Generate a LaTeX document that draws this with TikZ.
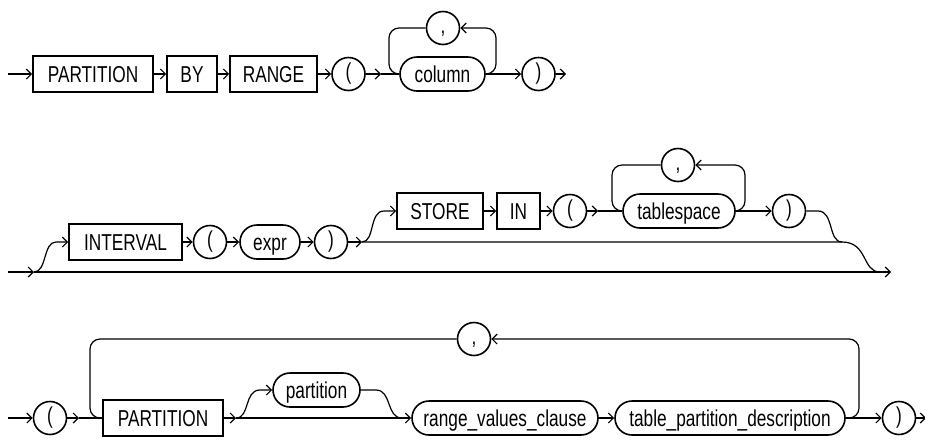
\documentclass[tikz,border=0pt]{standalone}
\usepackage{fontspec}
\setmainfont[FakeStretch=0.75]{Liberation Sans}
\usetikzlibrary{arrows.meta}
\begin{document}
\begin{tikzpicture}[x=1pt,y=-1pt,
  font=\fontsize{23}{26}\selectfont,
  kw/.style={draw, line width=1.6pt, rectangle, minimum height=36pt, inner sep=0pt, text height=16.5pt, text depth=0pt},
  nt/.style={draw, line width=1.6pt, rectangle, rounded corners=17pt, minimum height=34pt, inner sep=0pt, text height=16.5pt, text depth=0pt},
  sym/.style={draw, line width=1.6pt, circle, minimum size=33pt, inner sep=0pt, text height=16.5pt, text depth=4.8pt},
  ln/.style={line width=1.2pt},
  ar/.style={ln, -{Straight Barb[length=5pt,width=10pt]}},
  lp/.style={ln, rounded corners=10pt},
  arlp/.style={ar, rounded corners=10pt}]
\useasboundingbox (0,0) rectangle (925,440);

% ---------- row 1 ----------
\coordinate (s1) at (8,74);
\node[kw, minimum width=120pt] (part1) at (93,74) {PARTITION};
\node[kw, minimum width=50pt] (by) at (192,74) {BY};
\node[kw, minimum width=87pt] (range) at (273.5,74) {RANGE};
\node[sym] (lp1) at (348.5,74) {(};
\coordinate (a1) at (381,74);
\node[nt, minimum width=85pt] (col) at (442.5,74) {column};
\node[sym] (cm1) at (443,28) {,};
\node[sym] (rp1) at (538.5,74) {)};
\coordinate (e1) at (566,74);
\coordinate (l1r) at (496,74);
\coordinate (l1l) at (389,74);

\draw[ar] (s1) -- (part1);
\draw[ar] (part1) -- (by);
\draw[ar] (by) -- (range);
\draw[ar] (range) -- (lp1);
\draw[ar] (lp1) -- (a1);
\draw[ln] (a1) -- (col);
\draw[ar] (col) -- (rp1);
\draw[ar] (rp1) -- (e1);
\draw[arlp] (col.east) -- (l1r) -- (l1r |- cm1) -- (cm1);
\draw[lp] (cm1) -- (l1l |- cm1) -- (l1l) -- (col.west);

% ---------- row 2 ----------
\coordinate (s2) at (8,272);
\coordinate (j2) at (34,272);
\coordinate (e2) at (891,272);
\node[kw, minimum width=113pt] (interval) at (125.5,242) {INTERVAL};
\node[sym] (lp2) at (210,242) {(};
\node[nt, minimum width=60pt] (expr) at (270,242) {expr};
\node[sym] (rp2) at (331,242) {)};
\coordinate (j3) at (362,242);
\node[kw, minimum width=86pt] (store) at (440,211) {STORE};
\node[kw, minimum width=43pt] (in) at (518.5,211) {IN};
\node[sym] (lp3) at (570,211) {(};
\coordinate (a3) at (598,211);
\node[nt, minimum width=112pt] (ts) at (679,211) {tablespace};
\node[sym] (cm2) at (678,165) {,};
\node[sym] (rp3) at (789,211) {)};
\coordinate (l2r) at (745,211);
\coordinate (l2l) at (612,211);
\coordinate (m2) at (842,242);
\coordinate (m3) at (880,272);

\draw[ar] (s2) -- (j2);
\draw[ar] (j2) -- (e2);
\draw[ar] (j2) .. controls (47,272) and (43,242) .. (56,242) -- (interval);
\draw[ar] (interval) -- (lp2);
\draw[ar] (lp2) -- (expr);
\draw[ar] (expr) -- (rp2);
\draw[ar] (rp2) -- (j3);
\draw[ln] (j3) -- (m2) .. controls (868,242) and (862,272) .. (m3);
\draw[ar] (j3) .. controls (375,242) and (369,211) .. (384,211) -- (store);
\draw[ar] (store) -- (in);
\draw[ar] (in) -- (lp3);
\draw[ar] (lp3) -- (a3);
\draw[ln] (a3) -- (ts);
\draw[ar] (ts) -- (rp3);
\draw[ln] (rp3) -- (818,211) .. controls (834,211) and (828,242) .. (m2);
\draw[arlp] (ts.east) -- (l2r) -- (l2r |- cm2) -- (cm2);
\draw[lp] (cm2) -- (l2l |- cm2) -- (l2l) -- (ts.west);

% ---------- row 3 ----------
\coordinate (s3) at (8,418);
\node[sym] (lp4) at (50,418) {(};
\coordinate (a4) at (79,418);
\node[kw, minimum width=120pt] (part2) at (163,418) {PARTITION};
\coordinate (j5) at (236,418);
\node[nt, minimum width=87pt] (pn) at (316.5,390) {partition};
\node[nt, minimum width=186pt] (rvc) at (505,418) {range\_values\_clause};
\node[nt, minimum width=230pt] (tpd) at (730,418) {table\_partition\_description};
\node[sym] (rp4) at (899,418) {)};
\node[sym] (cm3) at (474,339) {,};
\coordinate (e3) at (926,418);
\coordinate (l3r) at (859,418);
\coordinate (l3l) at (90,418);

\draw[ar] (s3) -- (lp4);
\draw[ar] (lp4) -- (a4);
\draw[ln] (a4) -- (part2);
\draw[ar] (part2) -- (j5);
\draw[ar] (j5) -- (rvc);
\draw[ar] (j5) .. controls (250,418) and (244,390) .. (260,390) -- (pn);
\draw[ln] (pn.east) -- (376,390) .. controls (392,390) and (386,418) .. (402,418);
\draw[ar] (rvc) -- (tpd);
\draw[ar] (tpd) -- (rp4);
\draw[ar] (rp4) -- (e3);
\draw[arlp] (tpd.east) -- (l3r) -- (l3r |- cm3) -- (cm3);
\draw[lp] (cm3) -- (l3l |- cm3) -- (l3l) -- (part2.west);
\end{tikzpicture}
\end{document}
